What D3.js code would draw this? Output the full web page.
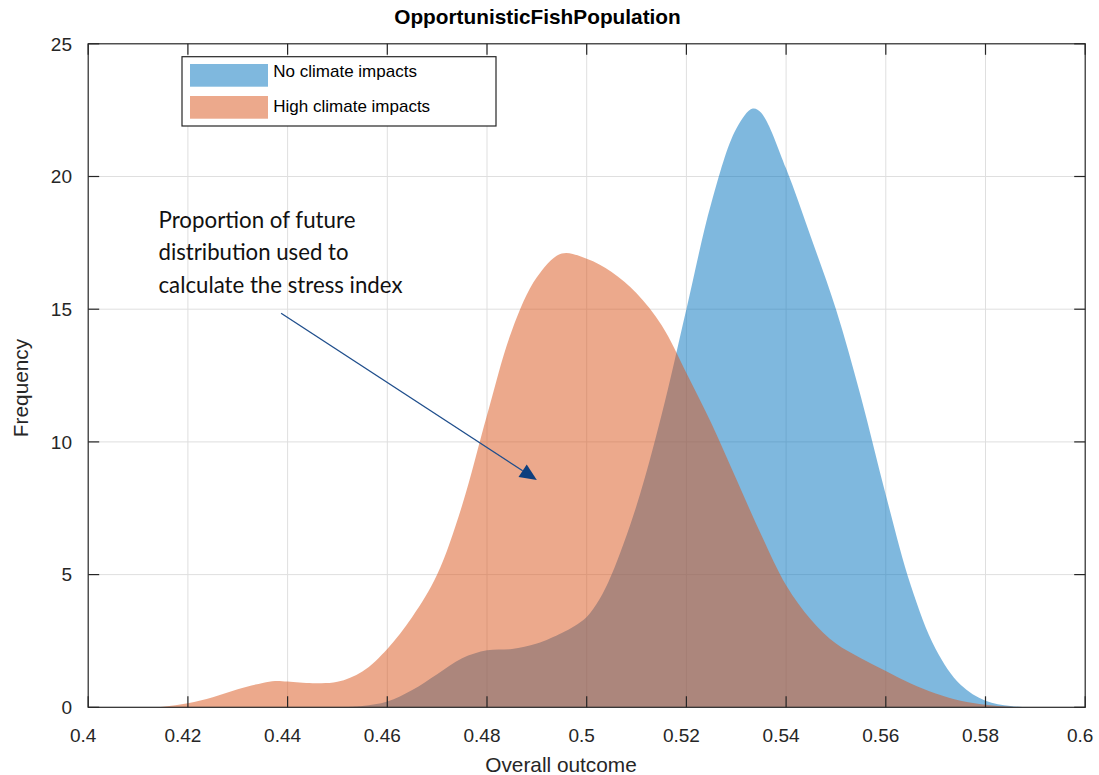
<!DOCTYPE html>
<html><head><meta charset="utf-8">
<script src="https://cdn.jsdelivr.net/npm/d3@7"></script>
<style>body{margin:0;background:#fff} svg{display:block}</style>
</head><body>
<svg id="chart" width="1099" height="775"></svg>
<script>
const chartTitle = "OpportunisticFishPopulation";
const xAxisLabel = "Overall outcome";
const yAxisLabel = "Frequency";
const seriesNames = ["No climate impacts", "High climate impacts"];
const xTicks = [0.4, 0.42, 0.44, 0.46, 0.48, 0.5, 0.52, 0.54, 0.56, 0.58, 0.6];
const xTickLabels = ["0.4", "0.42", "0.44", "0.46", "0.48", "0.5", "0.52", "0.54", "0.56", "0.58", "0.6"];
const yTicks = [0, 5, 10, 15, 20, 25];
const yTickLabels = ["0", "5", "10", "15", "20", "25"];

const noClimateX = [0.450, 0.455, 0.460, 0.465, 0.470, 0.475, 0.480, 0.485, 0.490, 0.495, 0.4975, 0.500, 0.5025, 0.505, 0.510, 0.515, 0.520, 0.525, 0.530, 0.5333, 0.535, 0.540, 0.545, 0.550, 0.555, 0.560, 0.565, 0.570, 0.575, 0.580, 0.585, 0.590];
const noClimateY = [0, 0.05, 0.22, 0.65, 1.25, 1.85, 2.15, 2.2, 2.4, 2.8, 3.05, 3.4, 4.05, 5.0, 7.6, 11.0, 15.0, 19.0, 21.8, 22.56, 22.4, 20.3, 17.7, 15.0, 11.7, 8.0, 4.6, 2.2, 0.85, 0.25, 0.05, 0];

const highClimateX = [0.410, 0.415, 0.420, 0.425, 0.430, 0.435, 0.4375, 0.440, 0.445, 0.450, 0.455, 0.460, 0.465, 0.470, 0.475, 0.480, 0.485, 0.490, 0.495, 0.500, 0.505, 0.510, 0.515, 0.520, 0.525, 0.530, 0.535, 0.540, 0.545, 0.550, 0.555, 0.560, 0.565, 0.570, 0.575, 0.580, 0.585, 0.590];
const highClimateY = [0, 0.02, 0.15, 0.38, 0.68, 0.92, 0.99, 0.97, 0.91, 0.96, 1.35, 2.2, 3.4, 5.0, 7.6, 11.0, 14.2, 16.2, 17.1, 16.9, 16.4, 15.6, 14.4, 12.6, 10.7, 8.6, 6.5, 4.6, 3.3, 2.4, 1.85, 1.37, 0.9, 0.52, 0.25, 0.1, 0.02, 0];

const annotationLines = ["Proportion of future", "distribution used to", "calculate the stress index"];
const annotationWidths = [197, 190, 244];
const annotationAnchor = [0.4141, 18.05];   // data coords of first baseline start
const arrowFrom = [0.4387, 14.85];
const arrowTo = [0.4900, 8.56];

const svg = d3.select("#chart");
const L = 88.2, R = 1085.2, T = 43.8, B = 707.3;
const x = d3.scaleLinear().domain([0.4, 0.6]).range([L, R]);
const y = d3.scaleLinear().domain([0, 25]).range([B, T]);
const axisColor = "#262626";
const font = "'Liberation Sans', Arial, Helvetica, sans-serif";

// grid
const grid = svg.append("g").attr("stroke", "#dfdfdf").attr("stroke-width", 1);
xTicks.slice(1, -1).forEach(v => grid.append("line").attr("x1", x(v)).attr("x2", x(v)).attr("y1", T).attr("y2", B));
yTicks.slice(1, -1).forEach(v => grid.append("line").attr("x1", L).attr("x2", R).attr("y1", y(v)).attr("y2", y(v)));

// areas
const series = [
  {xs: noClimateX, ys: noClimateY, color: "rgb(0,114,189)"},
  {xs: highClimateX, ys: highClimateY, color: "rgb(217,83,25)"}
];
const area = d3.area().x(d => x(d[0])).y0(y(0)).y1(d => y(Math.max(0, d[1]))).curve(d3.curveCatmullRom.alpha(0.5));
series.forEach(s => {
  const pts = s.xs.map((v, i) => [v, s.ys[i]]);
  svg.append("path").attr("d", area(pts)).attr("fill", s.color).attr("fill-opacity", 0.5);
});

// axes box & ticks
const ax = svg.append("g").attr("stroke", axisColor).attr("stroke-width", 1.2).attr("fill", "none");
ax.append("rect").attr("x", L).attr("y", T).attr("width", R - L).attr("height", B - T);
const tl = 11;
xTicks.forEach(v => {
  ax.append("line").attr("x1", x(v)).attr("x2", x(v)).attr("y1", B).attr("y2", B - tl);
  ax.append("line").attr("x1", x(v)).attr("x2", x(v)).attr("y1", T).attr("y2", T + tl);
});
yTicks.forEach(v => {
  ax.append("line").attr("x1", L).attr("x2", L + tl).attr("y1", y(v)).attr("y2", y(v));
  ax.append("line").attr("x1", R).attr("x2", R - tl).attr("y1", y(v)).attr("y2", y(v));
});

// tick labels
xTicks.forEach((v, i) => svg.append("text").attr("x", x(v) - 5).attr("y", 742)
  .attr("text-anchor", "middle").attr("font-family", font).attr("font-size", 19).attr("fill", axisColor).text(xTickLabels[i]));
yTicks.forEach((v, i) => svg.append("text").attr("x", 72).attr("y", y(v)).attr("dy", "0.36em")
  .attr("text-anchor", "end").attr("font-family", font).attr("font-size", 19).attr("fill", axisColor).text(yTickLabels[i]));

// axis labels and title
svg.append("text").attr("x", 561).attr("y", 772).attr("text-anchor", "middle").attr("font-family", font)
  .attr("font-size", 20.8).attr("fill", axisColor).text(xAxisLabel);
svg.append("text").attr("transform", "translate(28,388) rotate(-90)").attr("text-anchor", "middle").attr("font-family", font)
  .attr("font-size", 20.8).attr("fill", axisColor).text(yAxisLabel);
svg.append("text").attr("x", 537.5).attr("y", 24).attr("text-anchor", "middle").attr("font-family", font)
  .attr("font-size", 20.8).attr("font-weight", "bold").attr("fill", "#000").text(chartTitle);

// legend
const lg = svg.append("g");
lg.append("rect").attr("x", 182).attr("y", 56.7).attr("width", 314).attr("height", 69.3)
  .attr("fill", "#fff").attr("stroke", axisColor).attr("stroke-width", 1.2);
series.forEach((s, i) => {
  lg.append("rect").attr("x", 190).attr("y", 64 + i * 32).attr("width", 78).attr("height", 22.7)
    .attr("fill", s.color).attr("fill-opacity", 0.5);
  lg.append("text").attr("x", 273.3).attr("y", 76.7 + i * 35).attr("font-family", font).attr("font-size", 17)
    .attr("fill", "#000").text(seriesNames[i]);
});

// annotation
const ann = svg.append("g");
annotationLines.forEach((t, i) => {
  ann.append("text").attr("x", x(annotationAnchor[0])).attr("y", y(annotationAnchor[1]) + i * 32.2)
    .attr("font-family", "Lato, 'Open Sans', sans-serif").attr("font-size", 23).attr("fill", "#111")
    .attr("textLength", annotationWidths[i]).attr("lengthAdjust", "spacingAndGlyphs").text(t);
});
const x1 = x(arrowFrom[0]), y1 = y(arrowFrom[1]), x2 = x(arrowTo[0]), y2 = y(arrowTo[1]);
const ang = Math.atan2(y2 - y1, x2 - x1);
const hl = 17, hw = 7.5;
const bx = x2 - hl * Math.cos(ang), by = y2 - hl * Math.sin(ang);
ann.append("line").attr("x1", x1).attr("y1", y1).attr("x2", bx).attr("y2", by)
  .attr("stroke", "#1f4e8c").attr("stroke-width", 1.3);
ann.append("path").attr("d", `M${x2},${y2}L${bx - hw * Math.sin(ang)},${by + hw * Math.cos(ang)}L${bx + hw * Math.sin(ang)},${by - hw * Math.cos(ang)}Z`)
  .attr("fill", "#0e3f7e");
</script>
</body></html>
